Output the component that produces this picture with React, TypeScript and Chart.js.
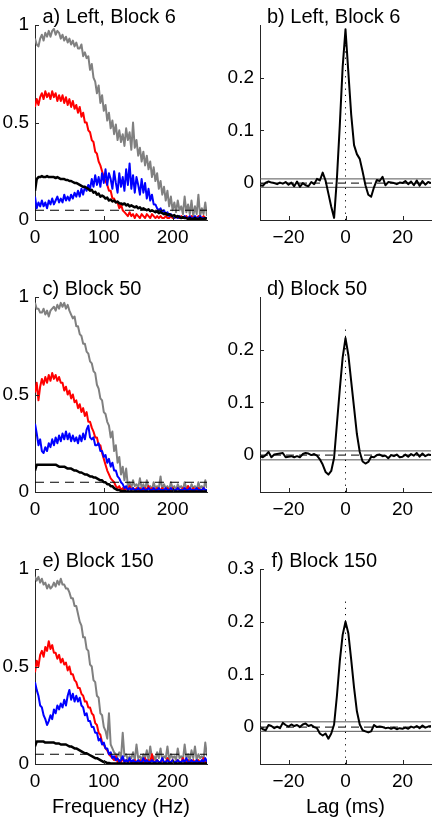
import { useEffect, useRef } from "react";
import { Chart, registerables } from "chart.js";

Chart.register(...registerables);

const FONT = "'Liberation Sans', Arial, Helvetica, sans-serif";
const INK = "#000000";
const AXIS_INK = "#262626";

// ---- frequency grid of the coherence spectra (Hz) ----
const FREQ_HZ = [
  0, 2.5, 5, 7.5, 10, 12.5, 15, 17.5, 20, 22.5,
  25, 27.5, 30, 32.5, 35, 37.5, 40, 42.5, 45, 47.5,
  50, 52.5, 55, 57.5, 60, 62.5, 65, 67.5, 70, 72.5,
  75, 77.5, 80, 82.5, 85, 87.5, 90, 92.5, 95, 97.5,
  100, 102.5, 105, 107.5, 110, 112.5, 115, 117.5, 120, 122.5,
  125, 127.5, 130, 132.5, 135, 137.5, 140, 142.5, 145, 147.5,
  150, 152.5, 155, 157.5, 160, 162.5, 165, 167.5, 170, 172.5,
  175, 177.5, 180, 182.5, 185, 187.5, 190, 192.5, 195, 197.5,
  200, 202.5, 205, 207.5, 210, 212.5, 215, 217.5, 220, 222.5,
  225, 227.5, 230, 232.5, 235, 237.5, 240, 242.5, 245, 247.5,
  250,
];

// ---- coherence spectra, in percent ----
const BLOCK6_GRAY = [
  93, 90, 89, 93, 95, 92, 96, 94, 97, 94,
  97, 98, 95, 97, 96, 93, 95, 92, 94, 91,
  93, 90, 92, 89, 91, 88, 88, 90, 84, 86,
  83, 84, 77, 80, 73, 71, 65, 69, 60, 64,
  56, 59, 51, 55, 47, 51, 44, 49, 41, 46,
  40, 44, 38, 47, 41, 45, 36, 50, 37, 41,
  33, 37, 30, 35, 28, 33, 26, 30, 22, 27,
  20, 24, 16, 20, 13, 17, 10, 15, 7, 12,
  5, 9, 4, 10, 5, 7, 3, 12, 4, 8,
  3, 10, 2, 7, 3, 13, 2, 6, 3, 9,
  2,
];
const BLOCK6_RED = [
  58, 62, 59, 63, 65, 62, 66, 63, 65, 62,
  66, 63, 65, 61, 64, 61, 64, 60, 63, 59,
  62, 58, 61, 57, 59, 55, 58, 53, 55, 50,
  50, 46, 45, 41, 40, 35, 34, 30, 28, 25,
  22, 20, 18, 15, 15, 11, 11, 9, 9, 6,
  8, 5, 4, 3, 2, 4, 2, 3, 1, 3,
  2, 1, 3, 2, 1, 3, 2, 1, 3, 2,
  1, 2, 1, 2, 1, 1, 2, 1, 1, 2,
  1, 1, 2, 1, 1, 2, 1, 1, 2, 1,
  1, 2, 1, 1, 1, 2, 1, 1, 2, 1,
  1,
];
const BLOCK6_BLUE = [
  12, 6, 9, 7, 10, 7, 9, 6, 10, 8,
  11, 8, 10, 12, 9, 11, 9, 13, 10, 12,
  10, 13, 11, 14, 12, 15, 12, 16, 13, 17,
  15, 18, 16, 21, 17, 23, 18, 22, 17, 24,
  19, 26, 18, 24, 21, 16, 25, 19, 14, 24,
  17, 22, 15, 26, 18, 29, 16, 23, 14, 22,
  18, 13, 21, 14, 19, 11, 16, 10, 13, 8,
  8, 6, 5, 6, 4, 5, 3, 4, 2, 3,
  2, 1, 2, 1, 2, 1, 1, 2, 1, 1,
  2, 1, 1, 2, 1, 1, 2, 1, 1, 1,
  1,
];
const BLOCK6_BLACK = [
  15, 21, 22, 22, 22.5, 22, 22, 22.5, 22, 22,
  22, 22, 21.5, 22, 21.5, 21, 21, 21, 20.5, 20.5,
  20, 20, 19.5, 19, 19, 18.5, 18, 17.5, 17, 17,
  16.5, 16, 15, 15.5, 14, 14.5, 13, 13.5, 12, 12.5,
  12, 11, 11.5, 10, 10.5, 9.5, 10, 9, 9.5, 8.5,
  8.5, 8, 8.5, 7.5, 8, 7, 7.5, 7, 6.5, 7,
  6, 6.5, 5.5, 6, 5.5, 5, 5.5, 4.5, 5, 4.5,
  4, 4.5, 3.5, 4, 3.5, 3, 3.5, 2.5, 3, 2.5,
  2, 2.5, 1.5, 2, 1.5, 1, 1.5, 1, 1, 0.5,
  1, 0.5, 0.5, 1, 0.5, 0.5, 1, 0.5, 0.5, 1,
  0.5,
];

const BLOCK50_GRAY = [
  97, 94, 94, 92, 92, 94, 91, 93, 90, 93,
  94, 95, 93, 96, 94, 97, 95, 97, 94, 96,
  93, 91, 89, 90, 85, 85, 81, 80, 76, 76,
  72, 71, 67, 66, 62, 61, 55, 53, 48, 47,
  41, 40, 36, 34, 28, 31, 21, 24, 15, 18,
  9, 13, 6, 12, 3, 5, 2, 6, 3, 4,
  2, 7, 2, 4, 1, 6, 2, 3, 1, 5,
  2, 3, 2, 8, 1, 4, 2, 3, 1, 5,
  2, 3, 1, 4, 2, 3, 1, 5, 2, 3,
  1, 4, 2, 3, 1, 5, 2, 3, 1, 6,
  2,
];
const BLOCK50_RED = [
  51, 56, 47, 54, 58, 55, 59, 56, 60, 57,
  61, 58, 60, 57, 59, 56, 56, 52, 54, 50,
  52, 48, 50, 46, 47, 43, 45, 41, 43, 39,
  41, 36, 36, 33, 31, 28, 28, 24, 24, 20,
  17, 14, 11, 9, 7, 6, 5, 3, 2, 3,
  1, 2, 1, 2, 1, 3, 1, 2, 1, 2,
  1, 2, 1, 1, 2, 1, 3, 1, 2, 1,
  1, 2, 1, 1, 2, 1, 1, 2, 1, 1,
  2, 1, 1, 2, 1, 1, 2, 1, 1, 3,
  1, 1, 2, 1, 1, 2, 1, 1, 2, 1,
  1,
];
const BLOCK50_BLUE = [
  35, 30, 24, 27, 21, 20, 23, 21, 25, 23,
  27, 24, 28, 25, 29, 26, 30, 27, 31, 27,
  30, 26, 29, 26, 28, 25, 29, 26, 30, 27,
  32, 34, 28, 27, 28, 24, 24, 25, 21, 21,
  18, 19, 15, 17, 13, 15, 11, 11, 8, 7,
  5, 4, 2, 3, 1, 2, 1, 2, 1, 1,
  2, 1, 1, 2, 1, 1, 2, 1, 1, 2,
  1, 1, 2, 1, 1, 1, 2, 1, 1, 2,
  1, 1, 1, 2, 1, 1, 1, 2, 1, 1,
  2, 1, 1, 1, 2, 1, 1, 1, 2, 1,
  1,
];
const BLOCK50_BLACK = [
  11, 14, 14, 14, 14, 14, 14, 14, 14, 14,
  14, 14, 14, 13.5, 13, 13, 13, 13, 12.5, 12,
  12, 12, 11.5, 11, 11, 10.5, 10, 10, 9.5, 9,
  9, 8.5, 8, 8, 7.5, 7.5, 7, 6.5, 6, 6,
  5, 5, 4, 4, 3, 3, 2, 1.5, 1, 1,
  0.5, 0.5, 0.5, 0.3, 0.3, 0.3, 0.3, 0.3, 0.3, 0.3,
  0.3, 0.3, 0.3, 0.3, 0.3, 0.3, 0.3, 0.3, 0.3, 0.3,
  0.3, 0.3, 0.3, 0.3, 0.3, 0.3, 0.3, 0.3, 0.3, 0.3,
  0.3, 0.3, 0.3, 0.3, 0.3, 0.3, 0.3, 0.3, 0.3, 0.3,
  0.3, 0.3, 0.3, 0.3, 0.3, 0.3, 0.3, 0.3, 0.3, 0.3,
  0.3,
];

const BLOCK150_GRAY = [
  96, 94, 96, 93, 95, 92, 93, 90, 92, 90,
  91, 93, 91, 94, 92, 95, 92, 92, 90, 90,
  88, 85, 85, 81, 81, 77, 73, 71, 65, 65,
  59, 58, 51, 50, 43, 42, 35, 34, 26, 25,
  19, 17, 13, 26, 10, 8, 6, 5, 4, 6,
  3, 16, 4, 5, 2, 4, 3, 6, 2, 10,
  3, 4, 2, 5, 3, 7, 2, 9, 3, 4,
  2, 6, 3, 8, 2, 4, 3, 9, 2, 5,
  3, 4, 2, 8, 3, 4, 2, 10, 3, 5,
  2, 7, 3, 9, 2, 5, 3, 4, 2, 11,
  4,
];
const BLOCK150_RED = [
  47, 53, 50, 56, 58, 55, 60, 58, 63, 59,
  61, 57, 57, 54, 56, 52, 54, 51, 52, 48,
  50, 46, 46, 43, 42, 39, 39, 36, 35, 32,
  32, 29, 29, 26, 25, 21, 20, 16, 15, 11,
  10, 8, 7, 5, 4, 3, 2, 4, 1, 2,
  1, 3, 1, 2, 1, 2, 1, 1, 2, 1,
  1, 2, 1, 1, 3, 1, 2, 1, 5, 1,
  1, 2, 1, 1, 2, 1, 1, 3, 1, 1,
  2, 1, 1, 2, 1, 1, 3, 1, 1, 2,
  1, 1, 2, 1, 1, 2, 1, 1, 3, 1,
  1,
];
const BLOCK150_BLUE = [
  42, 38, 35, 30, 29, 25, 23, 20, 22, 25,
  23, 28, 26, 30, 28, 31, 29, 33, 30, 35,
  38, 33, 36, 32, 35, 32, 34, 30, 29, 25,
  26, 22, 22, 19, 19, 16, 16, 12, 13, 10,
  11, 8, 8, 5, 6, 3, 4, 2, 3, 1,
  2, 4, 1, 2, 1, 3, 1, 2, 1, 1,
  2, 1, 1, 3, 1, 2, 1, 1, 2, 1,
  1, 2, 1, 1, 3, 1, 1, 2, 1, 1,
  2, 1, 1, 2, 1, 1, 2, 1, 3, 1,
  1, 2, 1, 1, 2, 1, 1, 2, 1, 3,
  1,
];
const BLOCK150_BLACK = [
  9, 11.5, 11.5, 11.5, 11.5, 11.5, 11, 11, 11, 11,
  11, 11, 10.5, 10.5, 10.5, 10, 10, 10, 10, 9.5,
  9, 9, 8.5, 8, 8, 7.5, 7, 6.5, 6, 5.5,
  5.5, 5, 4.5, 4, 3.5, 3, 3, 2.5, 2, 1.5,
  1, 1, 0.5, 0.5, 0.3, 0.3, 0.3, 0.3, 0.3, 0.3,
  0.3, 0.3, 0.3, 0.3, 0.3, 0.3, 0.3, 0.3, 0.3, 0.3,
  0.3, 0.3, 0.3, 0.3, 0.3, 0.3, 0.3, 0.3, 0.3, 0.3,
  0.3, 0.3, 0.3, 0.3, 0.3, 0.3, 0.3, 0.3, 0.3, 0.3,
  0.3, 0.3, 0.3, 0.3, 0.3, 0.3, 0.3, 0.3, 0.3, 0.3,
  0.3, 0.3, 0.3, 0.3, 0.3, 0.3, 0.3, 0.3, 0.3, 0.3,
  0.3,
];

// ---- cross-correlation lags (ms) ----
const LAG_MS = [
  -30, -29, -28, -27, -26, -25, -24, -23, -22, -21,
  -20, -19, -18, -17, -16, -15, -14, -13, -12, -11,
  -10, -9, -8, -7, -6, -5, -4, -3, -2, -1,
  0, 1, 2, 3, 4, 5, 6, 7, 8, 9,
  10, 11, 12, 13, 14, 15, 16, 17, 18, 19,
  20, 21, 22, 23, 24, 25, 26, 27, 28, 29,
  30,
];
const XCORR_BLOCK6 = [
  -0.004, -0.005, 0.001, 0.003, 0.001, 0.0, -0.002, 0.001, -0.001, 0.002,
  -0.003, 0.001, -0.006, 0.003, -0.007, 0.0, -0.004, -0.006, 0.002, -0.002,
  0.008, 0.005, 0.02, 0.005, -0.02, -0.045, -0.066, 0.01, 0.11, 0.22,
  0.292, 0.21, 0.13, 0.072, 0.055, 0.046, 0.022, -0.004, -0.022, -0.026,
  -0.008, 0.006, 0.004, 0.012, -0.004, 0.002, 0.001, 0.0, -0.002, 0.001,
  0.0, 0.004, -0.002, 0.003, -0.004, 0.005, -0.005, 0.004, -0.003, 0.002,
  0.0,
];
const XCORR_BLOCK50 = [
  -0.002, -0.004, 0.0, 0.006, -0.004, 0.001, 0.002, 0.003, 0.004, -0.004,
  -0.003, -0.002, -0.004, -0.002, -0.004, 0.002, 0.004, 0.003, 0.0, 0.002,
  -0.001, -0.008, -0.018, -0.032, -0.037, -0.03, -0.005, 0.06, 0.125, 0.185,
  0.222, 0.19, 0.14, 0.09, 0.04, 0.006, -0.012, -0.016, -0.013, -0.003,
  -0.004, 0.0, 0.001, -0.002, -0.001, -0.006, 0.0, -0.002, 0.001, -0.004,
  -0.003, 0.001, -0.003, 0.002, -0.001, 0.004, -0.003, 0.003, -0.002, 0.001,
  0.0,
];
const XCORR_BLOCK150 = [
  0.0, -0.004, -0.006, 0.004, 0.002, -0.002, 0.001, -0.002, 0.008, 0.004,
  0.001, 0.005, 0.002, 0.004, 0.0, 0.005, 0.007, 0.002, 0.004, 0.0,
  -0.002, -0.012, -0.016, -0.012, -0.022, -0.012, 0.005, 0.06, 0.125, 0.175,
  0.2, 0.178, 0.128, 0.075, 0.03, 0.005, -0.006, -0.008, -0.01, -0.008,
  0.004, 0.0, 0.001, 0.0, -0.002, -0.001, -0.003, -0.001, -0.004, -0.002,
  -0.003, -0.001, -0.003, 0.001, -0.001, 0.002, -0.002, 0.003, -0.001, 0.001,
  0.002,
];

// significance band (upper, lower) of the correlation
const BAND_BLOCK6 = [0.008, -0.008];
const BAND_BLOCK50 = [0.008, -0.009];
const BAND_BLOCK150 = [0.01, -0.008];
// extent of the dotted zero-lag marker
const ZERO_LAG_SPAN_BLOCK6 = [-0.07, 0.29];
const ZERO_LAG_SPAN_BLOCK50 = [-0.07, 0.242];
const ZERO_LAG_SPAN_BLOCK150 = [-0.07, 0.24];

// ---- axes ----
const FREQ_RANGE = [0, 250];
const COH_RANGE = [0, 1];
const LAG_RANGE = [-30, 30];
const XC_RANGE = [-0.07, 0.3];
const FREQ_TICKS = [0, 100, 200];
const COH_TICKS = [0, 0.5, 1];
const LAG_TICKS = [-20, 0, 20];
const XC_TICKS = [0, 0.1, 0.2];
const XC_TICKS_WITH_TOP = [0, 0.1, 0.2, 0.3];
const NOISE_LEVEL = 0.05;

const TITLES = [
  "a) Left, Block 6",
  "b) Left, Block 6",
  "c) Block 50",
  "d) Block 50",
  "e) Block 150",
  "f) Block 150",
];

// canvas geometry per column / row
const COLS = [
  { left: 0, width: 222, axisW: 35, padRight: 15 },
  { left: 222, width: 222, axisW: 38, padRight: 13 },
];
const ROWS = [
  { top: 0, height: 270, padTop: 25, axisH: 50 },
  { top: 270, height: 270, padTop: 27, axisH: 48 },
  { top: 540, height: 286, padTop: 29, axisH: 62 },
];

const fmtTick = (v: number) => (v < 0 ? "\u2212" + String(Math.abs(v)) : String(v));

// inward tick marks and the panel heading
const panelDecor = {
  id: "panelDecor",
  afterDraw(chart: any, _args: any, opts: any) {
    const { ctx, chartArea, scales } = chart;
    ctx.save();
    ctx.strokeStyle = AXIS_INK;
    ctx.lineWidth = 1;
    ctx.beginPath();
    for (const t of scales.x.ticks) {
      const px = Math.round(scales.x.getPixelForValue(t.value)) + 0.5;
      ctx.moveTo(px, chartArea.bottom);
      ctx.lineTo(px, chartArea.bottom - 4);
    }
    for (const t of scales.y.ticks) {
      const py = Math.round(scales.y.getPixelForValue(t.value)) + 0.5;
      ctx.moveTo(chartArea.left, py);
      ctx.lineTo(chartArea.left + 4, py);
    }
    ctx.stroke();
    ctx.fillStyle = INK;
    ctx.font = `20px ${FONT}`;
    ctx.textBaseline = "alphabetic";
    ctx.textAlign = "left";
    ctx.fillText(opts.title, chartArea.left + opts.dx, chartArea.top - 2.5);
    ctx.restore();
  },
};

function line(xs: number[], ys: number[], scale: number, color: string, width: number, order: number, dash?: number[]) {
  return {
    data: xs.map((x, i) => ({ x, y: ys[i] / scale })),
    borderColor: color,
    borderWidth: width,
    borderDash: dash || [],
    borderJoinStyle: "round",
    pointRadius: 0,
    tension: 0,
    fill: false,
    order,
  };
}

function specDatasets(gray: number[], red: number[], blue: number[], black: number[]) {
  const ends = [FREQ_HZ[0], FREQ_HZ[FREQ_HZ.length - 1]];
  return [
    line(ends, [NOISE_LEVEL, NOISE_LEVEL], 1, INK, 1, 0, [9, 6]),
    line(FREQ_HZ, black, 100, "#000000", 2.5, 1),
    line(FREQ_HZ, blue, 100, "#0000ff", 2, 2),
    line(FREQ_HZ, red, 100, "#ff0000", 2, 3),
    line(FREQ_HZ, gray, 100, "#808080", 2, 4),
  ];
}

function xcDatasets(values: number[], band: number[], span: number[]) {
  const ends = [LAG_MS[0], LAG_MS[LAG_MS.length - 1]];
  return [
    line(LAG_MS, values, 1, "#000000", 2, 0),
    line([0, 0], span, 1, INK, 1, 1, [1.2, 5]),
    line(ends, [0, 0], 1, INK, 1, 2, [8, 5]),
    line(ends, [band[0], band[0]], 1, "#555555", 1, 3),
    line(ends, [band[1], band[1]], 1, "#555555", 1, 3),
  ];
}

function axis(range: number[], ticks: number[], fit: (s: any) => void, pad: number, title?: string) {
  return {
    type: "linear",
    min: range[0],
    max: range[1],
    grid: { display: false, drawTicks: false },
    border: { display: true, color: AXIS_INK, width: 1 },
    ticks: {
      color: INK,
      font: { family: FONT, size: 19 },
      padding: pad,
      maxRotation: 0,
      autoSkip: false,
      callback: (v: number) => fmtTick(v),
    },
    afterBuildTicks: (s: any) => {
      s.ticks = ticks.map((v) => ({ value: v }));
    },
    afterFit: fit,
    title: title
      ? { display: true, text: title, color: INK, font: { family: FONT, size: 20 }, padding: { top: 0, bottom: 7 } }
      : { display: false },
  };
}

type PanelSpec = {
  col: number;
  row: number;
  title: string;
  dx: number;
  datasets: any[];
  xRange: number[];
  xTicks: number[];
  yRange: number[];
  yTicks: number[];
  xTitle?: string;
};

const PANELS: PanelSpec[] = [
  { col: 0, row: 0, title: TITLES[0], dx: 7.5, datasets: specDatasets(BLOCK6_GRAY, BLOCK6_RED, BLOCK6_BLUE, BLOCK6_BLACK), xRange: FREQ_RANGE, xTicks: FREQ_TICKS, yRange: COH_RANGE, yTicks: COH_TICKS },
  { col: 1, row: 0, title: TITLES[1], dx: 7, datasets: xcDatasets(XCORR_BLOCK6, BAND_BLOCK6, ZERO_LAG_SPAN_BLOCK6), xRange: LAG_RANGE, xTicks: LAG_TICKS, yRange: XC_RANGE, yTicks: XC_TICKS },
  { col: 0, row: 1, title: TITLES[2], dx: 7.5, datasets: specDatasets(BLOCK50_GRAY, BLOCK50_RED, BLOCK50_BLUE, BLOCK50_BLACK), xRange: FREQ_RANGE, xTicks: FREQ_TICKS, yRange: COH_RANGE, yTicks: COH_TICKS },
  { col: 1, row: 1, title: TITLES[3], dx: 7, datasets: xcDatasets(XCORR_BLOCK50, BAND_BLOCK50, ZERO_LAG_SPAN_BLOCK50), xRange: LAG_RANGE, xTicks: LAG_TICKS, yRange: XC_RANGE, yTicks: XC_TICKS },
  { col: 0, row: 2, title: TITLES[4], dx: 7.5, datasets: specDatasets(BLOCK150_GRAY, BLOCK150_RED, BLOCK150_BLUE, BLOCK150_BLACK), xRange: FREQ_RANGE, xTicks: FREQ_TICKS, yRange: COH_RANGE, yTicks: COH_TICKS, xTitle: "Frequency (Hz)" },
  { col: 1, row: 2, title: TITLES[5], dx: 11.5, datasets: xcDatasets(XCORR_BLOCK150, BAND_BLOCK150, ZERO_LAG_SPAN_BLOCK150), xRange: LAG_RANGE, xTicks: LAG_TICKS, yRange: XC_RANGE, yTicks: XC_TICKS_WITH_TOP, xTitle: "Lag (ms)" },
];

function Panel({ spec }: { spec: PanelSpec }) {
  const ref = useRef<HTMLCanvasElement>(null);
  const c = COLS[spec.col];
  const r = ROWS[spec.row];
  useEffect(() => {
    const chart = new Chart(ref.current as HTMLCanvasElement, {
      type: "line",
      data: { datasets: spec.datasets },
      options: {
        responsive: false,
        animation: false,
        events: [],
        devicePixelRatio: 1,
        layout: { padding: { left: 0, top: r.padTop, right: c.padRight, bottom: 0 } },
        plugins: {
          legend: { display: false },
          tooltip: { enabled: false },
          panelDecor: { title: spec.title, dx: spec.dx },
        },
        scales: {
          x: axis(spec.xRange, spec.xTicks, (s: any) => { s.height = r.axisH; }, 6, spec.xTitle),
          y: axis(spec.yRange, spec.yTicks, (s: any) => { s.width = c.axisW; }, 6),
        },
      } as any,
      plugins: [panelDecor as any],
    } as any);
    return () => chart.destroy();
  }, []);
  return (
    <canvas
      ref={ref}
      width={c.width}
      height={r.height}
      style={{ position: "absolute", left: c.left, top: r.top, width: c.width, height: r.height }}
    />
  );
}

export default function App() {
  return (
    <div style={{ position: "absolute", left: 0, top: 0, width: 444, height: 826, background: "#ffffff", overflow: "hidden" }}>
      {PANELS.map((p, i) => (
        <Panel key={i} spec={p} />
      ))}
    </div>
  );
}
